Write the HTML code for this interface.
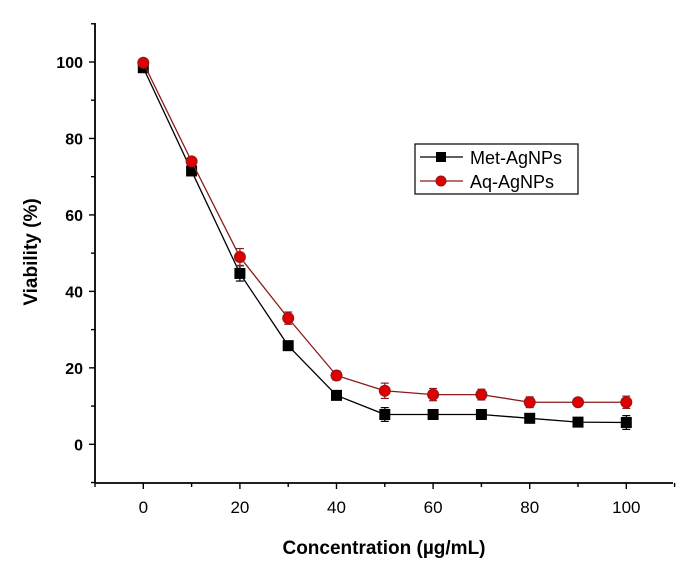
<!DOCTYPE html>
<html><head><meta charset="utf-8"><style>
body{margin:0;background:#fff;}
svg{display:block;font-family:"Liberation Sans",Arial,sans-serif;}
</style></head><body>
<svg id="chart" width="685" height="566">
<g id="axes"></g><g id="series"></g>
<g>
<rect x="415" y="144" width="163" height="50" fill="#fff" stroke="#000" stroke-width="1.2"/>
<g>
<line x1="420" y1="157" x2="463" y2="157" stroke="#000" stroke-width="1.3"/>
<rect x="436" y="152" width="10" height="10" fill="#000"/>
<text x="470" y="164" font-size="18">Met-AgNPs</text></g>
<g>
<line x1="420" y1="181" x2="463" y2="181" stroke="#8b1a1a" stroke-width="1.3"/>
<circle cx="441" cy="181" r="5" fill="#e00000" stroke="#8b1a1a"/>
<text x="470" y="188" font-size="18">Aq-AgNPs</text></g>
</g>
<text x="384" y="554" font-size="19" font-weight="bold" text-anchor="middle">Concentration (µg/mL)</text>
<text transform="translate(37,252) rotate(-90)" font-size="19" font-weight="bold" text-anchor="middle">Viability (%)</text>
</svg>
<script>
const conc=[0,10,20,30,40,50,60,70,80,90,100];
const met=[98.5,71.5,44.7,25.8,12.8,7.8,7.8,7.8,6.8,5.8,5.7];
const metErr=[0.8,0.8,2,1.2,0.8,1.8,1.2,1,0.8,0.8,1.8];
const aq=[99.8,74,49,33,18,14,13,13,11,11,11];
const aqErr=[0.6,0.8,2.2,1.6,1.2,2,1.6,1.4,1.4,0.8,1.6];
const xTicks=[0,20,40,60,80,100];
const yTicks=[0,20,40,60,80,100];
const NS="http://www.w3.org/2000/svg";
const X=v=>143.3+(v)*4.83;
const Y=v=>444.3-v*3.823;
function mk(t,a,p){const e=document.createElementNS(NS,t);for(const k in a)e.setAttribute(k,a[k]);p.appendChild(e);return e;}
const ax=document.getElementById('axes');
let l=mk('line',{x1:95,y1:483,x2:673,y2:483,stroke:'#000','stroke-width':1.8},ax);


l=mk('line',{x1:95,y1:23,x2:95,y2:483,stroke:'#000','stroke-width':1.8},ax);


for(let v=-10;v<=110;v+=10){const maj=v%20===0;mk('line',{x1:X(v),y1:483,x2:X(v),y2:483+(maj?6:4),stroke:'#000','stroke-width':1.4},ax);}
for(let v=-10;v<=110;v+=10){const maj=v%20===0;mk('line',{x1:95,y1:Y(v),x2:95-(maj?6:4),y2:Y(v),stroke:'#000','stroke-width':1.4},ax);}
xTicks.forEach(v=>{const t=mk('text',{x:X(v),y:513,'font-size':17,'text-anchor':'middle'},ax);t.textContent=v;

});
yTicks.forEach(v=>{const t=mk('text',{x:83,y:Y(v)+6,'font-size':16,'font-weight':'bold','text-anchor':'end'},ax);t.textContent=v;

});
const sg=document.getElementById('series');
function series(vals,errs,col,fill,circle,name){
const g=mk('g',{},sg);


mk('polyline',{points:conc.map((c,i)=>X(c)+','+Y(vals[i])).join(' '),fill:'none',stroke:col,'stroke-width':1.3},g);
conc.forEach((c,i)=>{const x=X(c),y1=Y(vals[i]+errs[i]),y2=Y(vals[i]-errs[i]);
mk('line',{x1:x,y1:y1,x2:x,y2:y2,stroke:col,'stroke-width':1.2},g);
mk('line',{x1:x-4,y1:y1,x2:x+4,y2:y1,stroke:col,'stroke-width':1.2},g);
mk('line',{x1:x-4,y1:y2,x2:x+4,y2:y2,stroke:col,'stroke-width':1.2},g);
let m;
if(circle)m=mk('circle',{cx:x,cy:Y(vals[i]),r:5.5,fill:fill,stroke:col},g);
else m=mk('rect',{x:x-5.5,y:Y(vals[i])-5.5,width:11,height:11,fill:fill},g);

});}
series(met,metErr,'#000','#000',false,'series-met');
series(aq,aqErr,'#8b1a1a','#e00000',true,'series-aq');
</script>
</body></html>
